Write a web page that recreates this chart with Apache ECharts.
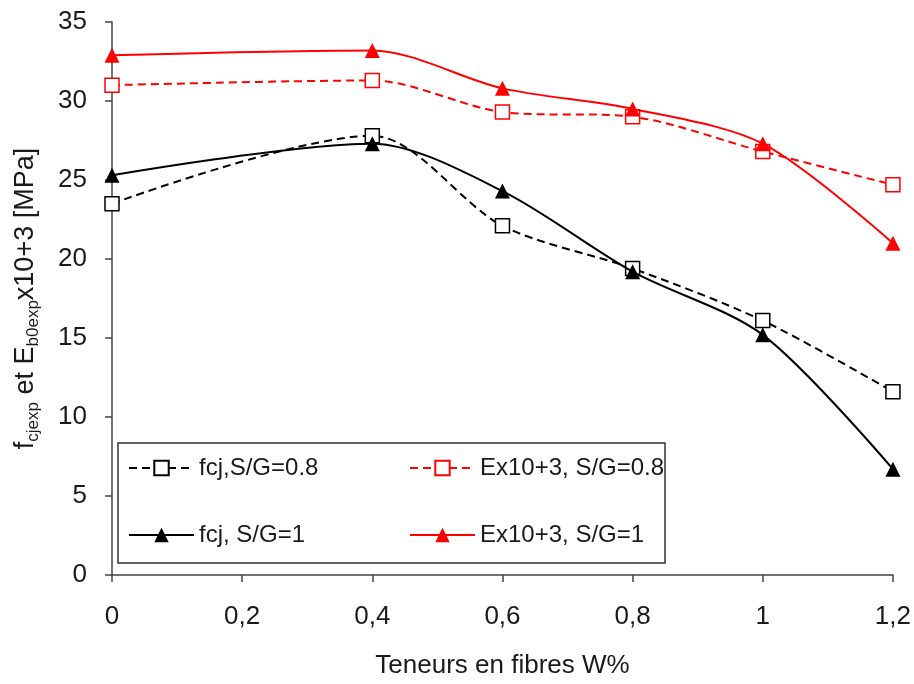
<!DOCTYPE html>
<html>
<head>
<meta charset="utf-8">
<script src="https://cdn.jsdelivr.net/npm/echarts@6/dist/echarts.min.js"></script>
<style>html,body{margin:0;padding:0;background:#fff}#c{width:914px;height:684px}</style>
</head>
<body>
<div id="c"></div>
<script>
var xValues = [0, 0.4, 0.6, 0.8, 1.0, 1.2];
var fcj08 = [23.5, 27.8, 22.1, 19.4, 16.1, 11.6];
var fcj1 = [25.3, 27.3, 24.3, 19.2, 15.2, 6.7];
var E08 = [31.0, 31.3, 29.3, 29.0, 26.8, 24.7];
var E1 = [32.9, 33.2, 30.8, 29.5, 27.3, 21.0];
var seriesNames = ['fcj,S/G=0.8', 'Ex10+3, S/G=0.8', 'fcj, S/G=1', 'Ex10+3, S/G=1'];
var xTicks = [0, 0.2, 0.4, 0.6, 0.8, 1, 1.2];
var yTicks = [0, 5, 10, 15, 20, 25, 30, 35];

function pairs(vals) { return xValues.map(function (x, i) { return [x, vals[i]]; }); }

var FONT = 'Liberation Sans, Arial, sans-serif';
var TXT = '#1a1a1a';
var chart = echarts.init(document.getElementById('c'));

function sq(color, data, name) {
  return {
    name: name, type: 'line', data: pairs(data), smooth: 0.3,
    symbol: 'rect', symbolSize: 14,
    lineStyle: { color: color, width: 2, type: [8, 5] },
    itemStyle: { color: '#fff', borderColor: color, borderWidth: 1.5 },
    z: 2
  };
}
function tri(color, data, name) {
  return {
    name: name, type: 'line', data: pairs(data), smooth: 0.3,
    symbol: 'triangle', symbolSize: 15,
    lineStyle: { color: color, width: 2, type: 'solid' },
    itemStyle: { color: color, borderColor: color, borderWidth: 0 },
    z: 3
  };
}

chart.setOption({
  animation: false,
  backgroundColor: '#fff',
  grid: { left: 112, right: 21, top: 22, bottom: 109 },
  legend: {
    data: seriesNames,
    left: 118, top: 443,
    width: 560,
    orient: 'horizontal',
    itemWidth: 65, itemHeight: 18, itemGap: 25,
    padding: [4, 0, 7, 10],
    borderColor: '#333', borderWidth: 1.5,
    backgroundColor: '#fff',
    textStyle: { fontFamily: FONT, fontSize: 24, color: TXT, width: 185, lineHeight: 42 }
  },
  xAxis: {
    type: 'value', min: 0, max: 1.2, interval: 0.2,
    name: 'Teneurs en fibres W%', nameLocation: 'middle', nameGap: 78,
    nameTextStyle: { fontFamily: FONT, fontSize: 26, color: TXT },
    axisLine: { lineStyle: { color: '#444', width: 1.5 } },
    axisTick: { show: true, length: 7, lineStyle: { color: '#444', width: 1.5 } },
    axisLabel: {
      margin: 29, fontFamily: FONT, fontSize: 26, color: TXT,
      formatter: function (v) {
        var t = xTicks.filter(function (k) { return Math.abs(k - v) < 1e-6; })[0];
        return String(t === undefined ? v : t).replace('.', ',');
      }
    },
    splitLine: { show: false }
  },
  yAxis: {
    type: 'value', min: 0, max: 35, interval: 5,
    name: '{m|f}{s|cjexp}{m| et E}{s|b0exp}{m|x10+3 [MPa]}',
    nameLocation: 'middle', nameGap: 70, nameRotate: 90,
    nameTextStyle: {
      fontFamily: FONT, color: TXT,
      rich: {
        m: { fontFamily: FONT, fontSize: 27, color: TXT, lineHeight: 32, verticalAlign: 'middle' },
        s: { fontFamily: FONT, fontSize: 17, color: TXT, lineHeight: 14, verticalAlign: 'bottom' }
      }
    },
    axisLine: { show: true, lineStyle: { color: '#444', width: 1.5 } },
    axisTick: { show: true, length: 7, lineStyle: { color: '#444', width: 1.5 } },
    axisLabel: {
      margin: 25, fontFamily: FONT, fontSize: 26, color: TXT,
      formatter: function (v) { return yTicks.indexOf(v) >= 0 ? String(v) : ''; }
    },
    splitLine: { show: false }
  },
  series: [
    sq('#000', fcj08, seriesNames[0]),
    sq('#ff0000', E08, seriesNames[1]),
    tri('#000', fcj1, seriesNames[2]),
    tri('#ff0000', E1, seriesNames[3])
  ]
});
</script>
</body>
</html>
